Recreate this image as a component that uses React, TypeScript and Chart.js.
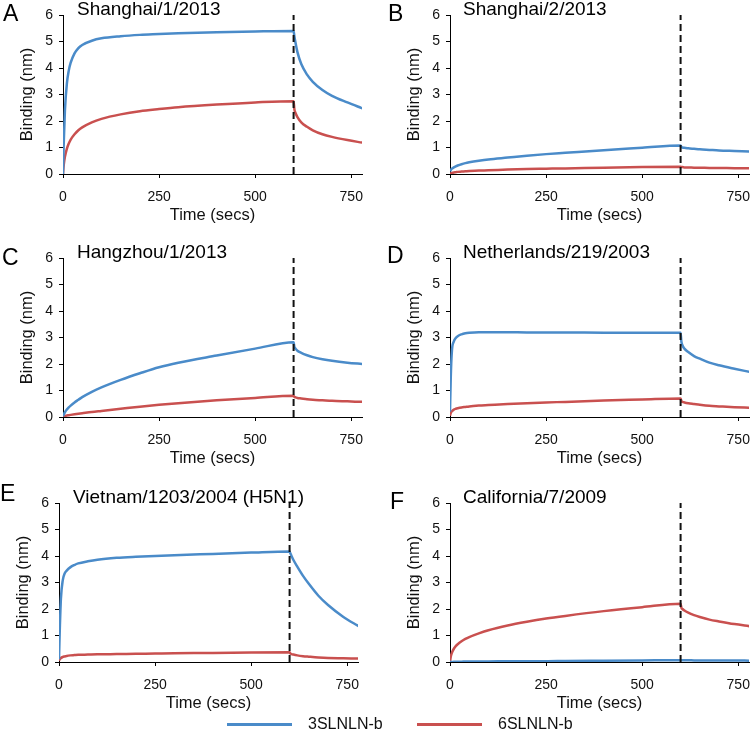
import React, { useEffect, useRef } from "react";
import { Chart, registerables } from "chart.js";

Chart.register(...registerables);

// ---------- data ----------
const times = [0, 2, 5, 10, 15, 20, 30, 40, 50, 75, 100, 150, 200, 250, 300, 400, 500, 600, 602, 605, 610, 620, 635, 650, 675, 700, 740, 780];

const shanghai1_3SL = [0, 1.2, 2.4, 3.4, 3.9, 4.2, 4.55, 4.75, 4.87, 5.03, 5.12, 5.2, 5.25, 5.28, 5.31, 5.35, 5.38, 5.4, 5.2, 4.95, 4.6, 4.15, 3.75, 3.48, 3.17, 2.95, 2.7, 2.47];
const shanghai1_6SL = [0, 0.35, 0.65, 0.95, 1.15, 1.3, 1.5, 1.65, 1.76, 1.95, 2.08, 2.25, 2.37, 2.45, 2.52, 2.62, 2.7, 2.75, 2.45, 2.3, 2.15, 1.95, 1.78, 1.65, 1.5, 1.4, 1.28, 1.18];

const shanghai2_3SL = [0.1, 0.15, 0.2, 0.25, 0.29, 0.32, 0.37, 0.41, 0.44, 0.5, 0.55, 0.62, 0.69, 0.75, 0.8, 0.9, 0.99, 1.08, 1.02, 1.0, 0.99, 0.97, 0.95, 0.93, 0.91, 0.89, 0.87, 0.85];
const shanghai2_6SL = [0, 0.02, 0.04, 0.06, 0.07, 0.08, 0.09, 0.1, 0.11, 0.13, 0.14, 0.17, 0.19, 0.2, 0.21, 0.24, 0.26, 0.27, 0.26, 0.26, 0.25, 0.25, 0.24, 0.24, 0.23, 0.23, 0.22, 0.22];

const hangzhou1_3SL = [0.03, 0.1, 0.18, 0.28, 0.36, 0.43, 0.55, 0.65, 0.75, 0.95, 1.12, 1.4, 1.65, 1.88, 2.05, 2.32, 2.58, 2.82, 2.65, 2.58, 2.5, 2.42, 2.33, 2.26, 2.18, 2.12, 2.05, 2.0];
const hangzhou1_6SL = [0.02, 0.03, 0.04, 0.06, 0.07, 0.08, 0.1, 0.12, 0.14, 0.19, 0.23, 0.31, 0.39, 0.46, 0.52, 0.63, 0.72, 0.8, 0.76, 0.74, 0.72, 0.7, 0.67, 0.65, 0.63, 0.61, 0.59, 0.57];

const netherlands_3SL = [0.2, 1.5, 2.5, 2.85, 2.98, 3.05, 3.12, 3.16, 3.18, 3.2, 3.2, 3.2, 3.19, 3.19, 3.19, 3.18, 3.18, 3.18, 2.85, 2.7, 2.58, 2.45, 2.3, 2.2, 2.05, 1.95, 1.82, 1.7];
const netherlands_6SL = [0.05, 0.15, 0.22, 0.28, 0.31, 0.33, 0.36, 0.38, 0.4, 0.43, 0.45, 0.49, 0.52, 0.55, 0.57, 0.62, 0.66, 0.7, 0.6, 0.57, 0.55, 0.52, 0.49, 0.46, 0.42, 0.4, 0.37, 0.35];

const vietnam_3SL = [0.1, 1.2, 2.4, 3.1, 3.35, 3.45, 3.58, 3.66, 3.72, 3.8, 3.86, 3.93, 3.97, 4.0, 4.03, 4.08, 4.13, 4.17, 4.1, 4.0, 3.85, 3.6, 3.25, 2.95, 2.5, 2.15, 1.7, 1.35];
const vietnam_6SL = [0.05, 0.1, 0.15, 0.19, 0.21, 0.23, 0.25, 0.26, 0.27, 0.28, 0.29, 0.3, 0.31, 0.32, 0.33, 0.34, 0.36, 0.37, 0.32, 0.3, 0.28, 0.25, 0.22, 0.2, 0.17, 0.15, 0.14, 0.13];

const california_3SL = [0, 0, 0, 0.01, 0.01, 0.01, 0.01, 0.02, 0.02, 0.02, 0.02, 0.03, 0.03, 0.03, 0.04, 0.05, 0.06, 0.07, 0.07, 0.07, 0.07, 0.07, 0.06, 0.06, 0.06, 0.06, 0.06, 0.05];
const california_6SL = [0, 0.2, 0.35, 0.5, 0.6, 0.67, 0.78, 0.87, 0.94, 1.08, 1.2, 1.38, 1.52, 1.64, 1.74, 1.92, 2.07, 2.2, 2.05, 2.0, 1.94, 1.86, 1.77, 1.7, 1.6, 1.53, 1.43, 1.35];

const seriesNames = ["3SLNLN-b", "6SLNLN-b"];
const panelLetters = ["A", "B", "C", "D", "E", "F"];
const panelTitles = ["Shanghai/1/2013", "Shanghai/2/2013", "Hangzhou/1/2013", "Netherlands/219/2003", "Vietnam/1203/2004 (H5N1)", "California/7/2009"];
const xTicks = [0, 250, 500, 750];
const yTicks = [0, 1, 2, 3, 4, 5, 6];
const xMax = 778;
const dissociationStart = 600;
const xTitle = "Time (secs)";
const yTitle = "Binding (nm)";

const panelData = [
  [shanghai1_3SL, shanghai1_6SL],
  [shanghai2_3SL, shanghai2_6SL],
  [hangzhou1_3SL, hangzhou1_6SL],
  [netherlands_3SL, netherlands_6SL],
  [vietnam_3SL, vietnam_6SL],
  [california_3SL, california_6SL],
];

// ---------- style / layout ----------
const BLUE = "#4A8BC9";
const RED = "#C9504F";
const FONT = "'Liberation Sans', Arial, Helvetica, sans-serif";

const Y_AXIS_W = 63;
const X_AXIS_H = 56;
const PAD_TOP = 15;
const PAD_RIGHT = 13;
const PLOT_W = 299;
const PLOT_H = 159;
const CANVAS_W = Y_AXIS_W + PLOT_W + PAD_RIGHT;
const CANVAS_H = PAD_TOP + PLOT_H + X_AXIS_H;

// plot-area top-left positions, letter & title positions
const layout = [
  { pl: 63, pt: 15, lx: 3, lb: 21.7, tx: 77, tb: 15 },
  { pl: 450, pt: 15, lx: 388, lb: 21.7, tx: 463, tb: 15 },
  { pl: 63, pt: 258, lx: 2, lb: 265, tx: 77, tb: 258 },
  { pl: 450, pt: 258, lx: 387, lb: 263.5, tx: 463, tb: 258 },
  { pl: 59, pt: 503, lx: 0, lb: 501, tx: 73, tb: 503 },
  { pl: 450, pt: 503, lx: 390, lb: 509, tx: 463, tb: 503 },
];

function Panel({ idx }: { idx: number }) {
  const ref = useRef<HTMLCanvasElement>(null);
  const L = layout[idx];
  useEffect(() => {
    const [s3, s6] = panelData[idx];
    const tickFont = { family: FONT, size: 14 };
    const titleFont = { family: FONT, size: 16.5 };
    const chart = new Chart(ref.current!, {
      type: "line",
      data: {
        datasets: [
          {
            label: "dissociation",
            data: [
              { x: dissociationStart, y: yTicks[0] },
              { x: dissociationStart, y: yTicks[yTicks.length - 1] },
            ],
            borderColor: "#111",
            borderWidth: 2,
            borderDash: [7, 4],
            pointRadius: 0,
            fill: false,
          },
          {
            label: seriesNames[0],
            data: times.map((t, i) => ({ x: t, y: s3[i] })),
            borderColor: BLUE,
            borderWidth: 2.5,
            pointRadius: 0,
            cubicInterpolationMode: "monotone",
            fill: false,
          },
          {
            label: seriesNames[1],
            data: times.map((t, i) => ({ x: t, y: s6[i] })),
            borderColor: RED,
            borderWidth: 2.5,
            pointRadius: 0,
            cubicInterpolationMode: "monotone",
            fill: false,
          },
        ],
      },
      options: {
        animation: false,
        responsive: false,
        maintainAspectRatio: false,
        layout: { padding: { left: 0, right: PAD_RIGHT, top: PAD_TOP, bottom: 0 } },
        plugins: { legend: { display: false }, tooltip: { enabled: false }, title: { display: false } },
        scales: {
          x: {
            type: "linear",
            min: 0,
            max: xMax,
            afterBuildTicks: (s: any) => {
              s.ticks = xTicks.map((v) => ({ value: v }));
            },
            afterFit: (s: any) => {
              s.height = X_AXIS_H;
              s.paddingLeft = 0;
              s.paddingRight = 0;
            },
            grid: { display: true, drawOnChartArea: false, drawTicks: true, tickLength: 4, color: "#000", lineWidth: 1 },
            border: { display: true, color: "#000", width: 1 },
            ticks: { font: tickFont, color: "#111", padding: 11, maxRotation: 0, autoSkip: false },
            title: { display: true, text: xTitle, font: titleFont, color: "#111", padding: { top: 0, bottom: 5 } },
          },
          y: {
            type: "linear",
            min: yTicks[0],
            max: yTicks[yTicks.length - 1],
            afterBuildTicks: (s: any) => {
              s.ticks = yTicks.map((v) => ({ value: v }));
            },
            afterFit: (s: any) => {
              s.width = Y_AXIS_W;
              s.paddingTop = 0;
              s.paddingBottom = 0;
            },
            grid: { display: true, drawOnChartArea: false, drawTicks: true, tickLength: 4, color: "#000", lineWidth: 1 },
            border: { display: true, color: "#000", width: 1 },
            ticks: { font: tickFont, color: "#111", padding: 6 },
            title: { display: true, text: yTitle, font: titleFont, color: "#111", padding: { top: 17.5, bottom: 0 } },
          },
        },
      },
    } as any);
    return () => chart.destroy();
  }, [idx]);

  const letterSize = 23;
  const titleSize = 19;
  return (
    <>
      <canvas
        ref={ref}
        width={CANVAS_W}
        height={CANVAS_H}
        style={{ position: "absolute", left: L.pl - Y_AXIS_W, top: L.pt - PAD_TOP, width: CANVAS_W, height: CANVAS_H }}
      />
      <div
        style={{
          position: "absolute",
          left: L.lx,
          top: L.lb - 0.8465 * letterSize,
          fontFamily: FONT,
          fontSize: letterSize,
          lineHeight: 1,
          color: "#000",
          whiteSpace: "nowrap",
        }}
      >
        {panelLetters[idx]}
      </div>
      <div
        style={{
          position: "absolute",
          left: L.tx,
          top: L.tb - 0.8465 * titleSize,
          fontFamily: FONT,
          fontSize: titleSize,
          lineHeight: 1,
          color: "#000",
          whiteSpace: "nowrap",
        }}
      >
        {panelTitles[idx]}
      </div>
    </>
  );
}

export default function App() {
  const legendSize = 16;
  const legendBaseline = 730;
  const legendItems = [
    { color: BLUE, lineX: 227, textX: 308 },
    { color: RED, lineX: 417, textX: 498 },
  ];
  return (
    <div style={{ position: "absolute", left: 0, top: 0, width: 750, height: 740, overflow: "hidden", background: "#fff" }}>
      {panelLetters.map((_, i) => (
        <Panel key={i} idx={i} />
      ))}
      {legendItems.map((it, i) => (
        <React.Fragment key={i}>
          <div style={{ position: "absolute", left: it.lineX, top: 723, width: 65, height: 2.5, background: it.color }} />
          <div
            style={{
              position: "absolute",
              left: it.textX,
              top: legendBaseline - 0.8465 * legendSize,
              fontFamily: FONT,
              fontSize: legendSize,
              lineHeight: 1,
              color: "#111",
              whiteSpace: "nowrap",
            }}
          >
            {seriesNames[i]}
          </div>
        </React.Fragment>
      ))}
    </div>
  );
}
